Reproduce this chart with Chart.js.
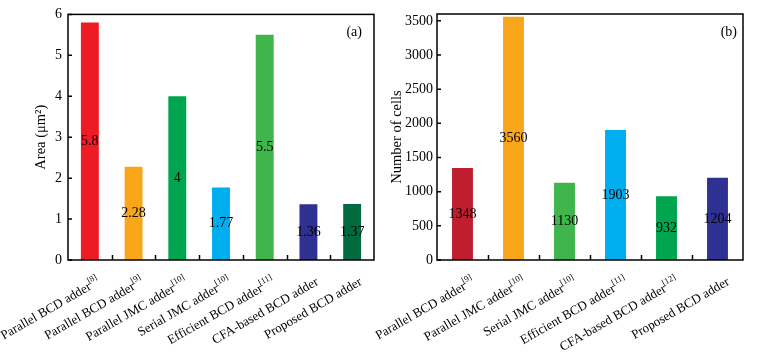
<!DOCTYPE html>
<html><head><meta charset="utf-8">
<script src="https://cdn.jsdelivr.net/npm/chart.js@4/dist/chart.umd.min.js"></script>
<style>
html,body{margin:0;padding:0;background:#fff;width:761px;height:355px;overflow:hidden;position:relative}
canvas{position:absolute;top:0}
#ca{left:0}
#cb{left:320px}
</style></head><body>
<canvas id="ca" width="380" height="355"></canvas>
<canvas id="cb" width="441" height="355"></canvas>
<script>
// ---- data ----
const categoriesA = ["Parallel BCD adder", "Parallel BCD adder", "Parallel JMC adder", "Serial JMC adder", "Efficient BCD adder", "CFA-based BCD adder", "Proposed BCD adder"];
const refsA = ["[8]", "[9]", "[10]", "[10]", "[11]", "", ""];
const areaValues = [5.8, 2.28, 4, 1.77, 5.5, 1.36, 1.37];
const colorsA = ["#ED1C24", "#F9A61B", "#00A54F", "#00AEEF", "#3FB54B", "#2E3192", "#006B3F"];
const yTickValuesA = [0, 1, 2, 3, 4, 5, 6];
const yMaxA = 6;

const categoriesB = ["Parallel BCD adder", "Parallel JMC adder", "Serial JMC adder", "Efficient BCD adder", "CFA-based BCD adder", "Proposed BCD adder"];
const refsB = ["[9]", "[10]", "[10]", "[11]", "[12]", ""];
const cellValues = [1348, 3560, 1130, 1903, 932, 1204];
const colorsB = ["#BE1E2D", "#F9A61B", "#3FB54B", "#00AEEF", "#00A54F", "#2E3192"];
const yTickValuesB = [0, 500, 1000, 1500, 2000, 2500, 3000, 3500];
const yMaxB = 3600;

const SERIF = '"Liberation Serif", "Times New Roman", serif';
Chart.defaults.font.family = SERIF;
Chart.defaults.color = '#000';

const decoPlugin = {
  id: 'deco',
  afterDatasetsDraw(chart) {
    const ctx = chart.ctx;
    const meta = chart.getDatasetMeta(0);
    const vals = chart.data.datasets[0].data;
    ctx.save();
    ctx.fillStyle = '#000';
    ctx.font = '14px ' + SERIF;
    ctx.textAlign = 'center';
    ctx.textBaseline = 'middle';
    meta.data.forEach((bar, i) => {
      ctx.fillText(String(vals[i]), bar.x, (bar.y + bar.base) / 2);
    });
    ctx.restore();
  },
  afterDraw(chart, args, opts) {
    const { ctx, chartArea: a } = chart;
    const x = chart.scales.x, y = chart.scales.y;
    ctx.save();
    ctx.strokeStyle = '#000';
    ctx.lineWidth = 1.5;
    ctx.beginPath();
    for (let i = 1; i < chart.data.labels.length; i++) {
      const px = Math.round((x.getPixelForValue(i - 1) + x.getPixelForValue(i)) / 2) + 0.5;
      ctx.moveTo(px, a.bottom); ctx.lineTo(px, a.bottom - 5);
    }
    y.ticks.forEach(t => {
      const py = y.getPixelForValue(t.value);
      ctx.moveTo(a.left, py); ctx.lineTo(a.left + 4, py);
    });
    ctx.stroke();
    ctx.strokeRect(a.left, a.top, a.right - a.left, a.bottom - a.top);
    // panel letter
    ctx.fillStyle = '#000';
    ctx.font = '14px ' + SERIF;
    ctx.textAlign = 'right';
    ctx.textBaseline = 'middle';
    ctx.fillText(opts.letter, a.right - opts.letterDx, a.top + 18);
    // category labels with superscript refs
    const refs = opts.refs;
    chart.data.labels.forEach((lab, i) => {
      const px = x.getPixelForValue(i);
      ctx.save();
      ctx.translate(px + opts.labelDx, a.bottom + 21);
      ctx.rotate(-Math.PI / 6);
      ctx.textBaseline = 'middle';
      ctx.textAlign = 'left';
      ctx.font = '8.5px ' + SERIF;
      const ws = refs[i] ? ctx.measureText(refs[i]).width : 0;
      ctx.font = '13px ' + SERIF;
      const wm = ctx.measureText(lab).width;
      ctx.fillText(lab, -(wm + ws), 0);
      if (refs[i]) {
        ctx.font = '8.5px ' + SERIF;
        ctx.fillText(refs[i], -ws, -5);
      }
      ctx.restore();
    });
    ctx.restore();
  }
};

function makeChart(id, cats, refs, vals, colors, tickVals, yMax, title, geom) {
  return new Chart(document.getElementById(id), {
    type: 'bar',
    data: {
      labels: cats,
      datasets: [{ data: vals, backgroundColor: colors, borderWidth: 0, barPercentage: 0.41, categoryPercentage: 1 }]
    },
    plugins: [decoPlugin],
    options: {
      responsive: false,
      animation: false,
      devicePixelRatio: 1,
      layout: { padding: { left: geom.padLeft, right: geom.padRight, top: 14, bottom: 0 } },
      plugins: {
        legend: { display: false },
        tooltip: { enabled: false },
        deco: { letter: geom.letter, letterDx: geom.letterDx, refs: refs, labelDx: geom.labelDx }
      },
      scales: {
        x: {
          grid: { display: false, drawTicks: false },
          border: { display: false },
          ticks: { display: false },
          afterFit: s => { s.height = 95; }
        },
        y: {
          min: 0, max: yMax,
          grid: { display: false, drawTicks: false },
          border: { display: false },
          afterBuildTicks: s => { s.ticks = tickVals.map(v => ({ value: v })); },
          ticks: { padding: geom.tickPad, font: { size: 14, family: SERIF }, color: '#000', callback: v => String(v) },
          title: { display: true, text: title, font: { size: 14.5, family: SERIF }, color: '#000', padding: 4 },
          afterFit: s => { s.width = geom.yWidth; }
        }
      }
    }
  });
}

makeChart('ca', categoriesA, refsA, areaValues, colorsA, yTickValuesA, yMaxA, 'Area (\u03bcm\u00b2)',
  { padLeft: 28, padRight: 6, yWidth: 40, tickPad: 6, letter: '(a)', letterDx: 12, labelDx: 9 });
makeChart('cb', categoriesB, refsB, cellValues, colorsB, yTickValuesB, yMaxB, 'Number of cells',
  { padLeft: 64, padRight: 18, yWidth: 53, tickPad: 4, letter: '(b)', letterDx: 6, labelDx: 11 });
</script>
</body></html>
